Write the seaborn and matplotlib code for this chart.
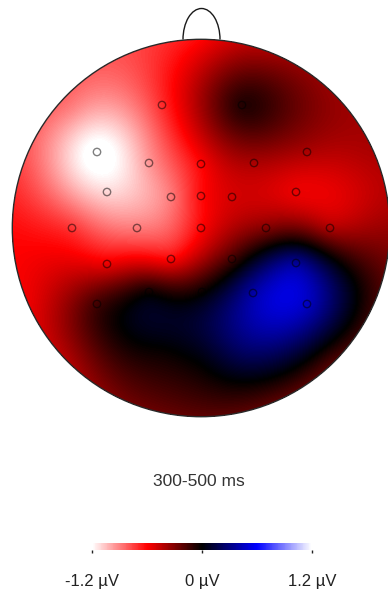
import numpy as np
import matplotlib
matplotlib.use("Agg")
import matplotlib.pyplot as plt
from matplotlib.colors import LinearSegmentedColormap
from matplotlib.patches import Circle, Arc
import seaborn as sns

# ---- data (head-image pixel positions and amplitudes in µV) ----
electrodes = ["Fp1", "Fp2", "F7", "F3", "Fz", "F4", "F8",
              "FC5", "FC1", "FCz", "FC2", "FC6",
              "T7", "C3", "Cz", "C4", "T8",
              "CP5", "CP1", "CP2", "CP6",
              "P7", "P3", "Pz", "P4", "P8",
              "O1", "Oz", "O2"]
elec_x = [162, 242, 97, 149, 201, 254, 307,
          107, 171, 201, 232, 296,
          72, 137, 201, 266, 330,
          107, 171, 232, 296,
          97, 149, 202, 253, 307,
          162, 201, 242]
elec_y = [105, 105, 152, 163, 164, 163, 152,
          192, 197, 196, 197, 192,
          228, 228, 228, 228, 228,
          264, 259, 259, 263,
          304, 292, 292, 293, 304,
          352, 360, 352]
elec_uv = [-0.70, -0.08, -1.25, -0.95, -0.60, -0.40, -0.40,
           -1.10, -0.88, -0.62, -0.50, -0.55,
           -0.72, -0.88, -0.60, -0.30, -0.40,
           -0.55, -0.60, -0.15, 0.35,
           -0.15, -0.03, -0.02, 0.38, 0.45,
           -0.02, 0.02, 0.22]
visible = [True] * 26 + [False] * 3

# amplitudes read along the scalp rim
rim_x = [201, 130, 70, 30, 14, 30, 70, 130, 201, 270, 330, 370, 388, 370, 330, 270]
rim_y = [40, 62, 110, 170, 230, 300, 360, 400, 417, 400, 360, 300, 230, 150, 90, 50]
rim_uv = [-0.60, -0.78, -0.90, -0.80, -0.62, -0.55, -0.40, -0.25,
          -0.22, -0.18, -0.15, -0.10, -0.35, -0.40, -0.35, -0.40]

cbar_ticks = [-1.2, 0.0, 1.2]
cbar_labels = ["-1.2 µV", "0 µV", "1.2 µV"]
title = "300-500 ms"

# ---- geometry ----
W, H = 388, 591
CX, CY, R = 201.0, 228.0, 189.0
N = 378  # one cell per pixel
X0, Y0 = CX - R, CY - R

# ---- thin plate spline interpolation ----
px = np.array(elec_x + rim_x, float)
py = np.array(elec_y + rim_y, float)
pv = np.array(elec_uv + rim_uv, float)
u = (px - CX) / R
v = (py - CY) / R


def tps(r):
    with np.errstate(divide="ignore", invalid="ignore"):
        out = r ** 2 * np.log(r)
    return np.nan_to_num(out)


n = len(u)
K = tps(np.hypot(u[:, None] - u[None, :], v[:, None] - v[None, :])) + 1e-3 * np.eye(n)
P = np.column_stack([np.ones(n), u, v])
A = np.block([[K, P], [P.T, np.zeros((3, 3))]])
b = np.concatenate([pv, np.zeros(3)])
sol = np.linalg.solve(A, b)
w, a = sol[:n], sol[n:]

gx = (X0 + np.arange(N) + 0.5 - CX) / R
gy = (Y0 + np.arange(N) + 0.5 - CY) / R
GX, GY = np.meshgrid(gx, gy)
Z = a[0] + a[1] * GX + a[2] * GY
for i in range(n):
    Z += w[i] * tps(np.hypot(GX - u[i], GY - v[i]))
mask = np.hypot(GX, GY) > 1.0

cmap = LinearSegmentedColormap.from_list(
    "wrkbw", [(0.0, "#ffffff"), (0.25, "#ff0000"), (0.5, "#000000"),
              (0.75, "#0000ff"), (1.0, "#ffffff")])

# ---- figure ----
fig = plt.figure(figsize=(W / 100, H / 100), dpi=100)
fig.patch.set_facecolor("white")
ax = fig.add_axes([X0 / W, 1 - (Y0 + N) / H, N / W, N / H])
cax = fig.add_axes([92 / W, 1 - 550 / H, 220 / W, 7 / H])

sns.heatmap(Z, mask=mask, cmap=cmap, vmin=-1.2, vmax=1.2, ax=ax, cbar_ax=cax,
            cbar_kws={"orientation": "horizontal"},
            xticklabels=False, yticklabels=False, rasterized=True)
ax.set_xlim(0, N)
ax.set_ylim(N, 0)
ax.axis("off")

# head outline and nose
ax.add_patch(Circle((R, R), R - 0.3, fill=False, lw=1.0, ec="#2a2a2a", clip_on=False))
ax.add_patch(Arc((R + 0.5, 0.5), 37, 62, theta1=180, theta2=360, lw=1.0,
                 ec="#1a1a1a", clip_on=False))

# electrodes
ex = np.array(elec_x, float) - X0
ey = np.array(elec_y, float) - Y0
vis = np.array(visible)
ax.scatter(ex[vis], ey[vis], s=28, facecolors="none",
           edgecolors=(0, 0, 0, 0.5), linewidths=1.0, zorder=5)

# title
fig.text(199 / W, 1 - 482 / H, title, ha="center", va="center",
         fontsize=12.5, family="Liberation Sans", color="#333333")

# colorbar
cbar = ax.collections[0].colorbar
cbar.outline.set_visible(False)
cbar.set_ticks(cbar_ticks)
cbar.set_ticklabels(cbar_labels)
cax.tick_params(axis="x", length=2, width=1, pad=15, labelsize=12,
                colors="#222222")
for t in cax.get_xticklabels():
    t.set_family("Liberation Sans")

fig.savefig("out.png", dpi=100, facecolor="white")
